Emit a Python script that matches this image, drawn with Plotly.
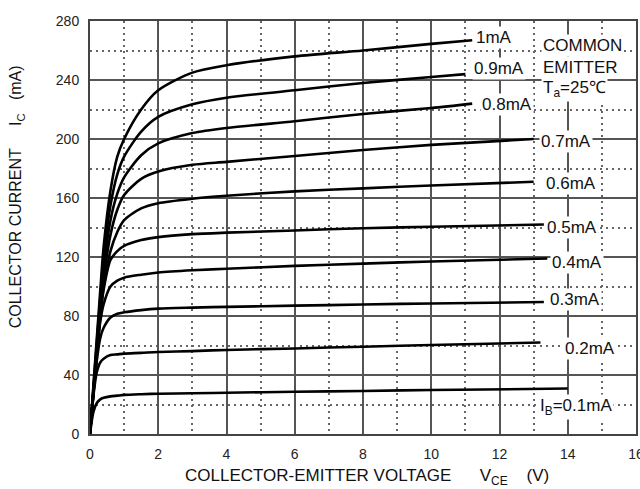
import plotly.graph_objects as go

# Common V_CE sample points (V); last point of each curve is given separately
VCE = [0, 0.1, 0.2, 0.3, 0.4, 0.6, 0.8, 1, 1.5, 2, 3, 4, 6, 8, 10]

IB_LABELS = ["1mA", "0.9mA", "0.8mA", "0.7mA", "0.6mA", "0.5mA", "0.4mA", "0.3mA", "0.2mA", "I<sub>B</sub>=0.1mA"]
END_VCE = [11.2, 11.0, 11.2, 13.0, 13.0, 13.3, 13.4, 13.3, 13.2, 14.0]

IC_1_0 = [0, 33, 65, 97, 127, 165, 188, 200, 220, 233, 245, 250, 256, 260, 264.5, 267]
IC_0_9 = [0, 31, 62, 92, 120, 155, 176, 188, 205, 215, 223.5, 228, 233, 238, 242, 244]
IC_0_8 = [0, 30, 58, 86, 112, 145, 163, 174, 189, 197, 204, 207.5, 212, 217, 221, 224]
IC_0_7 = [0, 29, 55, 82, 105, 135, 152, 162, 173, 178, 182.5, 184.5, 188.5, 192.5, 196, 200]
IC_0_6 = [0, 28, 53, 79, 100, 124, 137, 145, 153, 156.5, 159.5, 161.5, 164.5, 166.5, 168.5, 171]
IC_0_5 = [0, 28, 54, 80, 98, 118, 124, 127.5, 131.5, 133.5, 135.5, 136.5, 138, 139.5, 140.5, 142]
IC_0_4 = [0, 28, 55, 76, 88, 100, 104, 106, 108, 109.5, 111, 112, 114, 115.5, 117, 119]
IC_0_3 = [0, 27, 50, 65, 72, 79, 81.5, 82.5, 84, 85, 85.7, 86.2, 87, 87.8, 88.5, 89.5]
IC_0_2 = [0, 26, 42, 48.5, 51, 53.5, 54, 54.5, 55, 55.6, 56.2, 57, 58, 59.2, 60.3, 62]
IC_0_1 = [0, 15, 21, 23.5, 24.5, 25.5, 26, 26.5, 27, 27.3, 27.6, 28, 28.6, 29.2, 29.8, 30.8]

CURVES = [IC_1_0, IC_0_9, IC_0_8, IC_0_7, IC_0_6, IC_0_5, IC_0_4, IC_0_3, IC_0_2, IC_0_1]

# label anchor positions (data coords)
LABEL_X = [11.84, 11.99, 12.22, 13.95, 14.1, 14.13, 14.27, 14.21, 14.65, 14.24]
LABEL_Y = [268.5, 248.1, 223.7, 198.0, 169.5, 139.7, 116.6, 91.5, 58.3, 18.3]

X_TICKS = [0, 2, 4, 6, 8, 10, 12, 14, 16]
Y_TICKS = [0, 40, 80, 120, 160, 200, 240, 280]

fig = go.Figure()
for ic, xe in zip(CURVES, END_VCE):
    fig.add_trace(go.Scatter(
        x=VCE + [xe], y=ic, mode="lines",
        line=dict(color="black", width=2.6, shape="spline", smoothing=0.8),
        showlegend=False, hoverinfo="skip"))

lab_font = dict(family="Liberation Sans, Arial, sans-serif", size=17, color="#111")
for t, lx, ly in zip(IB_LABELS, LABEL_X, LABEL_Y):
    fig.add_annotation(x=lx, y=ly, text=t, showarrow=False, font=lab_font,
                       bgcolor="white", borderpad=1, xanchor="center", yanchor="middle")

for t, ly in zip(["COMMON", "EMITTER", "T<sub>a</sub>=25\u2103"], [263.7, 248.8, 233.9]):
    fig.add_annotation(x=13.22, y=ly, text=t, showarrow=False, font=lab_font,
                       bgcolor="white", borderpad=1, xanchor="left", yanchor="middle")

nb = "\u00a0"
fig.add_annotation(xref="paper", yref="paper", x=0.508, y=-0.104,
                   text="COLLECTOR-EMITTER VOLTAGE" + nb * 6 + "V<sub>CE</sub>" + nb * 4 + "(V)",
                   showarrow=False, xanchor="center", yanchor="middle",
                   font=dict(family="Liberation Sans, Arial, sans-serif", size=17, color="#111"))
fig.add_annotation(xref="paper", yref="paper", x=-0.133, y=0.574,
                   text="COLLECTOR CURRENT" + nb * 5 + "I<sub>C</sub>" + nb * 3 + "(mA)",
                   textangle=-90, showarrow=False, xanchor="center", yanchor="middle",
                   font=dict(family="Liberation Sans, Arial, sans-serif", size=16, color="#111"))

axis_common = dict(
    showline=True, mirror=True, linecolor="#444", linewidth=2,
    showgrid=True, gridcolor="#555", gridwidth=1.6,
    zeroline=False, ticks="", ticklabelstandoff=6, automargin=False,
    ticklabeloverflow="allow",
    tickfont=dict(family="Liberation Sans, Arial, sans-serif", size=14, color="#222"),
)
fig.update_xaxes(range=[0, 16], tickvals=X_TICKS,
                 minor=dict(dtick=1, tick0=0, showgrid=True, gridcolor="#666",
                            griddash="2px,4px", gridwidth=1.5),
                 **axis_common)
fig.update_yaxes(range=[0, 280], tickvals=Y_TICKS,
                 minor=dict(dtick=20, tick0=0, showgrid=True, gridcolor="#666",
                            griddash="2px,4px", gridwidth=1.5),
                 **axis_common)

fig.update_layout(
    width=640, height=489,
    margin=dict(l=90, r=4, t=21, b=55, autoexpand=False),
    plot_bgcolor="white", paper_bgcolor="white",
    showlegend=False,
)
fig.write_html("out.html", config={"displayModeBar": False},
               post_script="document.body.style.margin='0';document.body.style.overflow='hidden';")
